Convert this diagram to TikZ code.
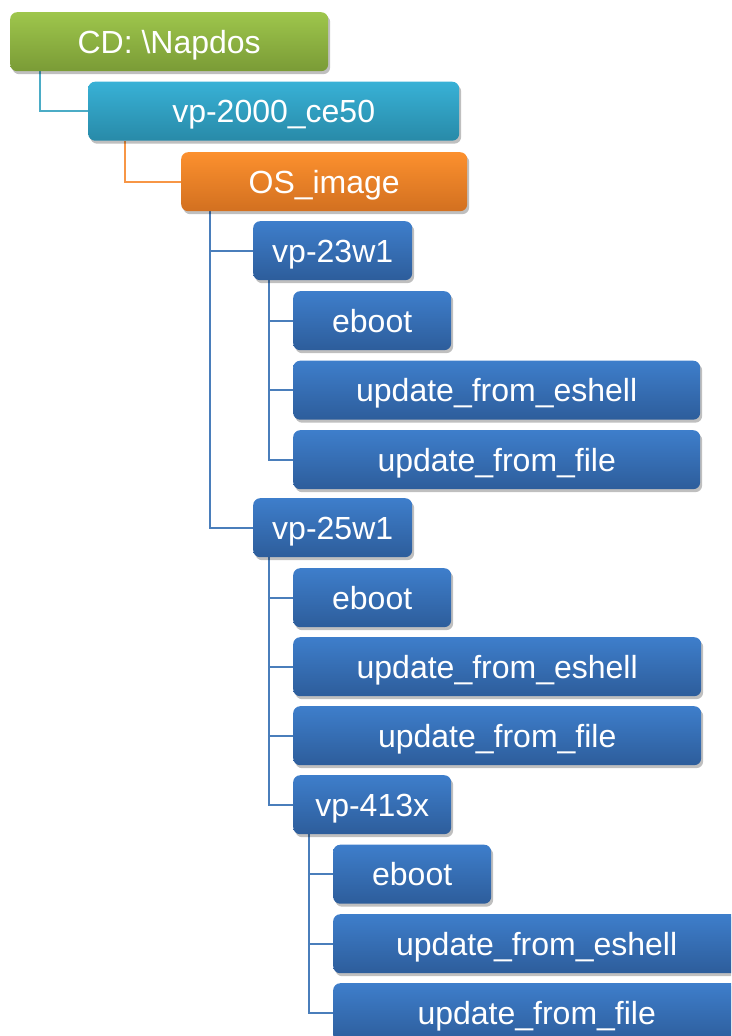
\documentclass[tikz,border=0pt]{standalone}
\usepackage{fontspec}
\setmainfont{Liberation Sans}
\usetikzlibrary{shadows,backgrounds}
\definecolor{gtop}{RGB}{158,198,76}
\definecolor{gbot}{RGB}{122,155,54}
\definecolor{ttop}{RGB}{56,177,214}
\definecolor{tbot}{RGB}{40,138,168}
\definecolor{otop}{RGB}{252,144,46}
\definecolor{obot}{RGB}{210,112,32}
\definecolor{btop}{RGB}{62,126,203}
\definecolor{bbot}{RGB}{45,93,155}
\definecolor{tline}{RGB}{75,172,198}
\definecolor{oline}{RGB}{247,150,70}
\definecolor{bline}{RGB}{74,126,187}
\tikzset{
  box/.style={rectangle, rounded corners=7pt, anchor=north west, minimum height=59pt,
    inner sep=0pt, text=white, font=\fontsize{32}{38}\selectfont,
    text height=23pt, text depth=0pt,
    drop shadow={shadow xshift=2pt, shadow yshift=-3pt, opacity=0.25, fill=black}},
  gbox/.style={box, top color=gtop, bottom color=gbot},
  tbox/.style={box, top color=ttop, bottom color=tbot},
  obox/.style={box, top color=otop, bottom color=obot},
  bbox/.style={box, top color=btop, bottom color=bbot},
  conn/.style={line width=2.2pt},
}
\begin{document}
\begin{tikzpicture}[x=1pt,y=-1pt]
\path[use as bounding box, clip] (0,0) rectangle (731,1036);
\node[gbox, minimum width=318pt] (cd) at (10,12) {CD: \textbackslash Napdos};
\node[tbox, minimum width=371pt] (vp2000) at (88,81.5) {vp-2000\_ce50};
\node[obox, minimum width=286pt] (os) at (181,152) {OS\_image};
\node[bbox, minimum width=159pt] (a) at (253,221) {vp-23w1};
\node[bbox, minimum width=158pt] (a1) at (293,291) {eboot};
\node[bbox, minimum width=407pt] (a2) at (293,360.5) {update\_from\_eshell};
\node[bbox, minimum width=407pt] (a3) at (293,430) {update\_from\_file};
\node[bbox, minimum width=159pt] (b) at (253,498) {vp-25w1};
\node[bbox, minimum width=158pt] (b1) at (293,568) {eboot};
\node[bbox, minimum width=408pt] (b2) at (293,637) {update\_from\_eshell};
\node[bbox, minimum width=408pt] (b3) at (293,706) {update\_from\_file};
\node[bbox, minimum width=158pt] (c) at (293,775) {vp-413x};
\node[bbox, minimum width=158pt] (c1) at (333,844.5) {eboot};
\node[bbox, minimum width=407pt] (c2) at (333,914) {update\_from\_eshell};
\node[bbox, minimum width=407pt] (c3) at (333,983) {update\_from\_file};
\begin{scope}[on background layer]
\draw[conn, tline] ([xshift=30pt]cd.south west) |- (vp2000.west);
\draw[conn, oline] ([xshift=37pt]vp2000.south west) |- (os.west);
\draw[conn, bline] ([xshift=29pt]os.south west) |- (a.west);
\draw[conn, bline] ([xshift=29pt]os.south west) |- (b.west);
\draw[conn, bline] ([xshift=16pt]a.south west) |- (a1.west);
\draw[conn, bline] ([xshift=16pt]a.south west) |- (a2.west);
\draw[conn, bline] ([xshift=16pt]a.south west) |- (a3.west);
\draw[conn, bline] ([xshift=16pt]b.south west) |- (b1.west);
\draw[conn, bline] ([xshift=16pt]b.south west) |- (b2.west);
\draw[conn, bline] ([xshift=16pt]b.south west) |- (b3.west);
\draw[conn, bline] ([xshift=16pt]b.south west) |- (c.west);
\draw[conn, bline] ([xshift=16pt]c.south west) |- (c1.west);
\draw[conn, bline] ([xshift=16pt]c.south west) |- (c2.west);
\draw[conn, bline] ([xshift=16pt]c.south west) |- (c3.west);
\end{scope}
\end{tikzpicture}
\end{document}
